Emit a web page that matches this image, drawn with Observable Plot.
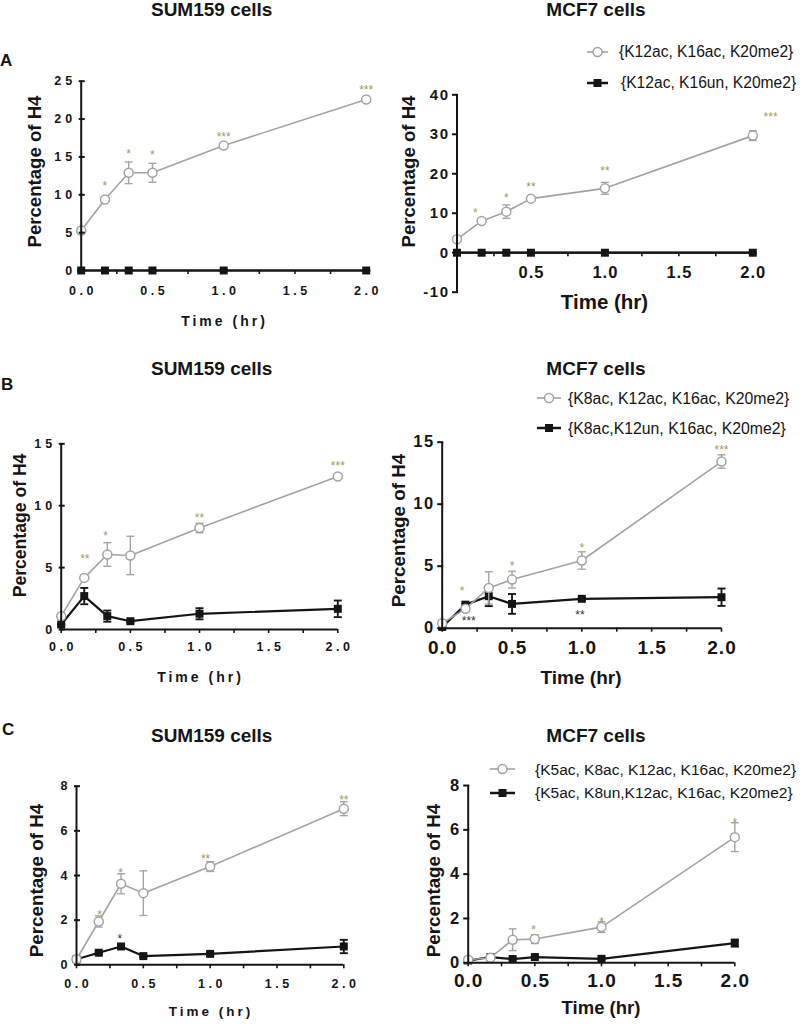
<!DOCTYPE html>
<html><head><meta charset="utf-8">
<script src="https://cdn.jsdelivr.net/npm/d3@7"></script>
<script src="https://cdn.jsdelivr.net/npm/@observablehq/plot@0.6"></script>
<style>
body{margin:0;background:#fff;font-family:"Liberation Sans",Arial,sans-serif;}
#fig{position:relative;width:800px;height:1034px;overflow:hidden;background:#fff;}
.panel{position:absolute;}
.lbl{position:absolute;white-space:nowrap;line-height:1;color:#151515;}
.lp g[aria-label="y-axis tick label"] text{letter-spacing:4px;}
.lp g[aria-label="x-axis tick label"] text{letter-spacing:3.5px;}
.rp g[aria-label="y-axis tick label"] text{letter-spacing:1.5px;}
.rp g[aria-label="x-axis tick label"] text{letter-spacing:1px;}
</style></head>
<body><div id="fig"></div>
<script>
// ---------- data ----------
const times = [0, 1/6, 1/3, 0.5, 1, 2];
const minorTicks = [0, 0.25, 0.5, 0.75, 1, 1.25, 1.5, 1.75, 2];

// A  {K12ac,K16ac,K20me2} vs {K12ac,K16un,K20me2}
const aSumAc = [5.28, 9.37, 12.9, 12.9, 16.5, 22.58];
const aSumAcSd = [0.2, 0.3, 1.43, 1.25, 0.3, 0.3];
const aSumUn = [0, 0, 0, 0, 0, 0];
const aSumUnSd = [0, 0, 0, 0, 0, 0];
const aMcfAc = [3.39, 8.05, 10.4, 13.7, 16.3, 29.66];
const aMcfAcSd = [0.5, 0.5, 1.7, 0.6, 1.5, 1.25];
const aMcfUn = [0, 0, 0, 0, 0, 0];
const aMcfUnSd = [0, 0, 0, 0, 0, 0];

// B
const bSumAc = [1.08, 4.17, 6.06, 5.98, 8.2, 12.36];
const bSumAcSd = [0.1, 0.2, 0.95, 1.55, 0.38, 0.2];
const bSumUn = [0.4, 2.7, 1.08, 0.67, 1.27, 1.67];
const bSumUnSd = [0.05, 0.66, 0.45, 0.1, 0.45, 0.67];
const bMcfAc = [0.4, 1.56, 3.25, 3.92, 5.46, 13.44];
const bMcfAcSd = [0.1, 0.2, 1.3, 0.68, 0.7, 0.54];
const bMcfUn = [0.1, 1.9, 2.58, 1.96, 2.37, 2.5];
const bMcfUnSd = [0.05, 0.1, 0.8, 0.8, 0.1, 0.7];

// C
const cSumAc = [0.25, 1.94, 3.63, 3.21, 4.4, 6.99];
const cSumAcSd = [0.05, 0.25, 0.45, 1.0, 0.22, 0.31];
const cSumUn = [0.25, 0.54, 0.82, 0.39, 0.49, 0.82];
const cSumUnSd = [0.02, 0.05, 0.08, 0.05, 0.05, 0.3];
const cMcfAc = [0.14, 0.23, 1.04, 1.07, 1.61, 5.67];
const cMcfAcSd = [0.03, 0.05, 0.49, 0.2, 0.24, 0.65];
const cMcfUn = [0.1, 0.26, 0.17, 0.26, 0.18, 0.89];
const cMcfUnSd = [0.02, 0.03, 0.03, 0.03, 0.03, 0.16];

// significance stars (time, height, label)
const aSumStarT = [1/6, 1/3, 0.5, 1, 2];
const aSumStarY = [11.5, 15.8, 15.6, 18.0, 24.2];
const aSumStarS = ["*", "*", "*", "***", "***"];
const aMcfStarT = [0.124, 1/3, 0.5, 1, 2.12];
const aMcfStarY = [10.8, 14.6, 17.4, 21.4, 35.2];
const aMcfStarS = ["*", "*", "**", "**", "***"];
const bSumStarT = [0.171, 0.32, 1.0, 2.0];
const bSumStarY = [5.93, 7.8, 9.2, 13.4];
const bSumStarS = ["**", "*", "**", "***"];
const bMcfStarT = [0.143, 0.5, 1, 2];
const bMcfStarY = [3.23, 5.27, 6.67, 14.6];
const bMcfStarS = ["*", "*", "*", "***"];
const bMcfUnStarT = [0.19, 0.986];
const bMcfUnStarY = [0.83, 1.29];
const bMcfUnStarS = ["***", "**"];
const cSumStarT = [0.173, 0.33, 0.966, 2.0];
const cSumStarY = [2.36, 4.22, 4.87, 7.51];
const cSumStarS = ["*", "*", "**", "**"];
const cSumUnStarT = [0.325];
const cSumUnStarY = [1.28];
const cSumUnStarS = ["*"];
const cMcfStarT = [0.49, 1.0, 2.0];
const cMcfStarY = [1.61, 1.98, 6.42];
const cMcfStarS = ["*", "*", "*"];

const titles = ["SUM159 cells", "MCF7 cells"];
const panelLetters = ["A", "B", "C"];
const legendA = ["{K12ac, K16ac, K20me2}", "{K12ac, K16un, K20me2}"];
const legendB = ["{K8ac, K12ac, K16ac, K20me2}", "{K8ac,K12un, K16ac, K20me2}"];
const legendC = ["{K5ac, K8ac, K12ac, K16ac, K20me2}", "{K5ac, K8un,K12ac, K16ac, K20me2}"];
const yLabel = "Percentage of H4";
const xLabel = "Time (hr)";

// ---------- styles ----------
const INK = "#151515", GRAY = "#a3a3a3", OLIVE = "#a19b58", DARKSTAR = "#333";
const capSymbol = {draw(ctx, size) { const r = Math.sqrt(size / Math.PI); ctx.moveTo(-r, 0); ctx.lineTo(r, 0); }};
const fig = document.getElementById("fig");

function rows(v, sd) { return times.map((t, i) => ({t, v: v[i], e: sd[i]})); }
function starRows(T, Y, S) { return T.map((t, i) => ({t, y: Y[i], s: S[i]})); }

function label(txt, x, baseline, size, weight, anchor, spacing) {
  const d = document.createElement("div");
  d.className = "lbl"; d.textContent = txt;
  d.style.fontSize = size + "px"; d.style.fontWeight = weight;
  d.style.top = (baseline - 0.8465 * size) + "px";
  d.style.left = x + "px";
  if (spacing) d.style.letterSpacing = spacing + "px";
  if (anchor === "middle") d.style.transform = "translateX(-50%)";
  fig.appendChild(d);
}

function makePanel(p) {
  const [bl, bt, bw, bh] = p.box;
  const mL = p.fx[0] - bl, mR = bl + bw - p.fx[1], mT = p.fy[1] - bt, mB = bt + bh - p.fy[0];
  const ih = p.fy[0] - p.fy[1];
  const zeroUp = (0 - p.yDom[0]) / (p.yDom[1] - p.yDom[0]) * ih;
  const L = p.side === "left";
  const ac = rows(p.ac, p.acSd), un = rows(p.un, p.unSd);
  const fnt = "Liberation Sans, Arial, sans-serif";
  const seriesMarks = (data, color, sw, symbol, r, fill) => [
    Plot.line(data, {x: "t", y: "v", stroke: color, strokeWidth: sw}),
    Plot.ruleX(data, {x: "t", y1: d => d.v - d.e, y2: d => d.v + d.e, stroke: color, strokeWidth: sw * 0.85}),
    Plot.dot(data, {x: "t", y: d => d.v + d.e, symbol: capSymbol, r: 4, stroke: color, fill: "none", strokeWidth: sw * 0.85}),
    Plot.dot(data, {x: "t", y: d => d.v - d.e, symbol: capSymbol, r: 4, stroke: color, fill: "none", strokeWidth: sw * 0.85}),
    symbol === "square"
      ? Plot.dot(data, {x: "t", y: "v", symbol: "square", r, fill: color, stroke: "none"})
      : Plot.dot(data, {x: "t", y: "v", symbol: "circle", r, fill: fill, stroke: color, strokeWidth: 1.5})
  ];
  const marks = [
    ...seriesMarks(un, INK, 2.2, "square", 4.5),
    ...seriesMarks(ac, GRAY, 1.6, "circle", 4.5, "#fff"),
    Plot.ruleX([0], {y1: p.yDom[0], y2: p.yDom[1], stroke: INK, strokeWidth: 2}),
    Plot.ruleY([0], {x1: 0, x2: 2, stroke: INK, strokeWidth: 2}),
    Plot.axisY({ticks: p.yTicks, tickFormat: d => String(d), tickSize: 6, tickPadding: 3, stroke: INK, fill: INK,
      strokeWidth: 2, fontSize: p.yFont, fontWeight: "bold", label: null, dx: L ? 4 : 1.5}),
    Plot.axisX({ticks: minorTicks, tickSize: 4, stroke: INK, strokeWidth: 1.6, fill: "none", label: null, dy: -zeroUp}),
    Plot.axisX({ticks: p.xTicks, tickSize: 0, tickPadding: p.xPad, tickFormat: d3.format(".1f"), fill: INK,
      fontSize: p.xFont, fontWeight: "bold", label: null, dy: -zeroUp, dx: L ? 1.75 : 0.5}),
    Plot.text(starRows(p.starT, p.starY, p.starS), {x: "t", y: "y", text: "s", fill: OLIVE, fontSize: 12, dy: 3}),
    p.unStarT ? Plot.text(starRows(p.unStarT, p.unStarY, p.unStarS), {x: "t", y: "y", text: "s", fill: DARKSTAR, fontSize: 12, dy: 3}) : null,
    Plot.text([yLabel], {frameAnchor: "left", textAnchor: "middle", lineAnchor: "middle", rotate: -90,
      dx: p.yLab[0] - p.fx[0], dy: p.yLab[1] - (p.fy[0] + p.fy[1]) / 2,
      fontSize: p.yLab[2], fontWeight: "bold", fill: INK})
  ];
  const svg = Plot.plot({
    width: bw, height: bh, marginLeft: mL, marginRight: mR, marginTop: mT, marginBottom: mB,
    x: {domain: [0, 2], label: null},
    y: {domain: p.yDom, label: null},
    style: {background: "transparent", overflow: "visible", fontFamily: fnt, color: INK},
    marks
  });
  const wrap = document.createElement("div");
  wrap.className = "panel " + (L ? "lp" : "rp");
  wrap.style.left = bl + "px"; wrap.style.top = bt + "px";
  wrap.style.width = bw + "px"; wrap.style.height = bh + "px";
  wrap.appendChild(svg);
  fig.appendChild(wrap);
  // x-axis title below the plot
  const fs = p.tLab[2], sp = L ? 3 : 0;
  label(xLabel, p.tLab[0] + sp / 2, p.tLab[1] + 0.36 * fs, fs, "bold", "middle", sp);
}

const panels = [
  {side: "left", box: [0, 0, 400, 340], fx: [80.7, 365.7], fy: [270, 80.7], yDom: [0, 25], yTicks: [0, 5, 10, 15, 20, 25],
   xTicks: [0, 0.5, 1, 1.5, 2], yFont: 12.5, xFont: 12.5, xPad: 16, yLab: [35, 171, 18.6], tLab: [223, 321, 14],
   ac: aSumAc, acSd: aSumAcSd, un: aSumUn, unSd: aSumUnSd, starT: aSumStarT, starY: aSumStarY, starS: aSumStarS},
  {side: "right", box: [380, 0, 420, 340], fx: [456.5, 752.3], fy: [291.7, 94.3], yDom: [-10, 40], yTicks: [-10, 0, 10, 20, 30, 40],
   xTicks: [0.5, 1, 1.5, 2], yFont: 15, xFont: 16.5, xPad: 14, yLab: [408.5, 171, 18.6], tLab: [604.5, 301.7, 20.5],
   ac: aMcfAc, acSd: aMcfAcSd, un: aMcfUn, unSd: aMcfUnSd, starT: aMcfStarT, starY: aMcfStarY, starS: aMcfStarS},
  {side: "left", box: [0, 330, 400, 360], fx: [60.7, 337.3], fy: [629, 443.3], yDom: [0, 15], yTicks: [0, 5, 10, 15],
   xTicks: [0, 0.5, 1, 1.5, 2], yFont: 12.5, xFont: 12.5, xPad: 13, yLab: [20, 525, 17.6], tLab: [199, 677, 14],
   ac: bSumAc, acSd: bSumAcSd, un: bSumUn, unSd: bSumUnSd, starT: bSumStarT, starY: bSumStarY, starS: bSumStarS},
  {side: "right", box: [380, 330, 420, 360], fx: [441.7, 721], fy: [627.7, 441.7], yDom: [0, 15], yTicks: [0, 5, 10, 15],
   xTicks: [0, 0.5, 1, 1.5, 2], yFont: 16.5, xFont: 19, xPad: 12, yLab: [398, 530, 18.8], tLab: [581, 677, 19],
   ac: bMcfAc, acSd: bMcfAcSd, un: bMcfUn, unSd: bMcfUnSd, starT: bMcfStarT, starY: bMcfStarY, starS: bMcfStarS,
   unStarT: bMcfUnStarT, unStarY: bMcfUnStarY, unStarS: bMcfUnStarS},
  {side: "left", box: [0, 690, 400, 344], fx: [76, 343.3], fy: [964.3, 785.7], yDom: [0, 8], yTicks: [0, 2, 4, 6, 8],
   xTicks: [0, 0.5, 1, 1.5, 2], yFont: 12.5, xFont: 12.5, xPad: 14.5, yLab: [36.7, 880, 18.8], tLab: [209.5, 1011.7, 13.5],
   ac: cSumAc, acSd: cSumAcSd, un: cSumUn, unSd: cSumUnSd, starT: cSumStarT, starY: cSumStarY, starS: cSumStarS,
   unStarT: cSumUnStarT, unStarY: cSumUnStarY, unStarS: cSumUnStarS},
  {side: "right", box: [380, 690, 420, 344], fx: [467.7, 734.3], fy: [962.3, 785], yDom: [0, 8], yTicks: [0, 2, 4, 6, 8],
   xTicks: [0, 0.5, 1, 1.5, 2], yFont: 16.5, xFont: 19, xPad: 11, yLab: [433, 880, 18.8], tLab: [601, 1008.3, 18.5],
   ac: cMcfAc, acSd: cMcfAcSd, un: cMcfUn, unSd: cMcfUnSd, starT: cMcfStarT, starY: cMcfStarY, starS: cMcfStarS}
];
panels.forEach(makePanel);

// ---------- titles, panel letters, legends ----------
[16.3, 375, 741.7].forEach(b => { label(titles[0], 211.7, b, 19, "bold", "middle"); label(titles[1], 596, b, 19, "bold", "middle"); });
label(panelLetters[0], 0, 66.7, 17, "bold");
label(panelLetters[1], 1, 390, 17, "bold");
label(panelLetters[2], 2, 735, 17, "bold");

function swatch(x1, x2, cy, kind) {
  const w = x2 - x1 + 12;
  const s = d3.create("svg").attr("width", w).attr("height", 14)
    .style("position", "absolute").style("left", (x1 - 6) + "px").style("top", (cy - 7) + "px");
  const c = kind === "ac" ? GRAY : INK;
  s.append("line").attr("x1", 6).attr("x2", w - 6).attr("y1", 7).attr("y2", 7).attr("stroke", c).attr("stroke-width", kind === "ac" ? 1.6 : 2.5);
  if (kind === "ac") s.append("circle").attr("cx", w / 2).attr("cy", 7).attr("r", 4.5).attr("fill", "#fff").attr("stroke", GRAY).attr("stroke-width", 1.5);
  else s.append("rect").attr("x", w / 2 - 4).attr("y", 3).attr("width", 8).attr("height", 8).attr("fill", INK);
  fig.appendChild(s.node());
}
function legend(texts, x1, x2, cy1, cy2, tx1, tx2, fs) {
  swatch(x1, x2, cy1, "ac"); swatch(x1, x2, cy2, "un");
  label(texts[0], tx1, cy1 + 0.36 * fs, fs, "normal");
  label(texts[1], tx2, cy2 + 0.36 * fs, fs, "normal");
}
legend(legendA, 587, 608, 51.7, 82.7, 619, 621, 15.6);
legend(legendB, 537, 561, 398.3, 428.3, 568, 568, 15.8);
legend(legendC, 490, 515, 769.3, 792.7, 535, 535, 15.5);
</script></body></html>
